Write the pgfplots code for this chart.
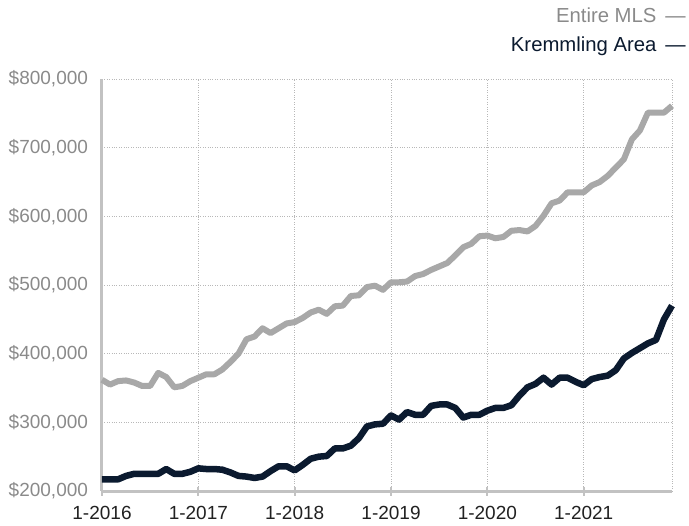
\documentclass[border=0pt]{standalone}
\usepackage{pgfplots}
\pgfplotsset{compat=1.18}
\usepackage{fontspec}
\setmainfont{Liberation Sans}
\definecolor{navy}{HTML}{0B1A2F}
\definecolor{mlsgray}{HTML}{A8A8A8}
\definecolor{axgray}{HTML}{C2C2C2}
\definecolor{gridgray}{HTML}{B8B8B8}
\definecolor{labgray}{HTML}{8A8A8A}
\begin{document}
\begin{tikzpicture}
\begin{axis}[
  scale only axis,
  width=570pt, height=412pt,
  xmin=0, xmax=71,
  ymin=200000, ymax=800000,
  axis x line*=bottom,
  axis y line*=left,
  axis line style={axgray, line width=3pt},
  xtick={0,12,24,36,48,60},
  xticklabels={1-2016,1-2017,1-2018,1-2019,1-2020,1-2021},
  extra x ticks={71},
  extra x tick labels={},
  extra x tick style={grid=major, major tick length=0pt},
  ytick={200000,300000,400000,500000,600000,700000,800000},
  yticklabels={{\$200,000},{\$300,000},{\$400,000},{\$500,000},{\$600,000},{\$700,000},{\$800,000}},
  scaled y ticks=false,
  /pgf/number format/assume math mode=true,
  grid=major,
  major grid style={gridgray, dotted, line width=0.8pt},
  xtick style={axgray, line width=2pt},
  major tick length=9pt,
  tick align=center,
  ytick style={draw=none},
  xticklabel style={font=\fontsize{19}{20}\selectfont, text=black!87, yshift=-7pt},
  yticklabel style={font=\fontsize{19}{20}\selectfont, text=labgray, xshift=-6pt},
  clip=false,
]
\addplot[mlsgray, line width=6pt, line join=round] coordinates {
(0,362000)(1,355000)(2,360000)(3,361000)(4,358000)(5,353000)(6,353000)(7,372000)(8,366000)(9,351000)(10,353000)(11,360000)
(12,365000)(13,370000)(14,370000)(15,377000)(16,388000)(17,400000)(18,421000)(19,425000)(20,437000)(21,430000)(22,437000)(23,444000)
(24,446000)(25,452000)(26,460000)(27,464000)(28,458000)(29,469000)(30,470000)(31,484000)(32,485000)(33,497000)(34,499000)(35,493000)
(36,504000)(37,504000)(38,505000)(39,513000)(40,516000)(41,522000)(42,527000)(43,532000)(44,543000)(45,555000)(46,560000)(47,571000)
(48,572000)(49,568000)(50,570000)(51,579000)(52,580000)(53,578000)(54,586000)(55,601000)(56,619000)(57,623000)(58,635000)(59,635000)
(60,635000)(61,645000)(62,650000)(63,659000)(64,671000)(65,683000)(66,712000)(67,725000)(68,751000)(69,751000)(70,751000)(71,761000)
};
\addplot[navy, line width=6.5pt, line join=round] coordinates {
(0,217000)(1,217000)(2,217000)(3,222000)(4,225000)(5,225000)(6,225000)(7,225000)(8,232000)(9,225000)(10,225000)(11,228000)
(12,233000)(13,232000)(14,232000)(15,231000)(16,227000)(17,222000)(18,221000)(19,219000)(20,221000)(21,229000)(22,236000)(23,236000)
(24,230000)(25,238000)(26,247000)(27,250000)(28,251000)(29,262000)(30,262000)(31,266000)(32,277000)(33,294000)(34,297000)(35,298000)
(36,310000)(37,304000)(38,315000)(39,311000)(40,311000)(41,324000)(42,326000)(43,326000)(44,321000)(45,307000)(46,311000)(47,311000)
(48,317000)(49,321000)(50,321000)(51,325000)(52,339000)(53,351000)(54,356000)(55,365000)(56,355000)(57,365000)(58,365000)(59,359000)
(60,354000)(61,363000)(62,366000)(63,368000)(64,376000)(65,393000)(66,401000)(67,408000)(68,415000)(69,420000)(70,450000)(71,470000)
};
\coordinate (bl) at (rel axis cs:0,0);
\coordinate (tr) at (rel axis cs:1,1);
\end{axis}
\node[anchor=east, font=\fontsize{20.3}{22}\selectfont, text=labgray, inner sep=0pt] at ([xshift=14pt,yshift=64pt]tr) {Entire MLS \,—};
\node[anchor=east, font=\fontsize{20.3}{22}\selectfont, text=navy, inner sep=0pt] at ([xshift=14pt,yshift=33pt]tr) {Kremmling Area \,—};
\pgfresetboundingbox
\path ([xshift=-102pt,yshift=-34pt]bl) rectangle ([xshift=17pt,yshift=79pt]tr);
\end{tikzpicture}
\end{document}
